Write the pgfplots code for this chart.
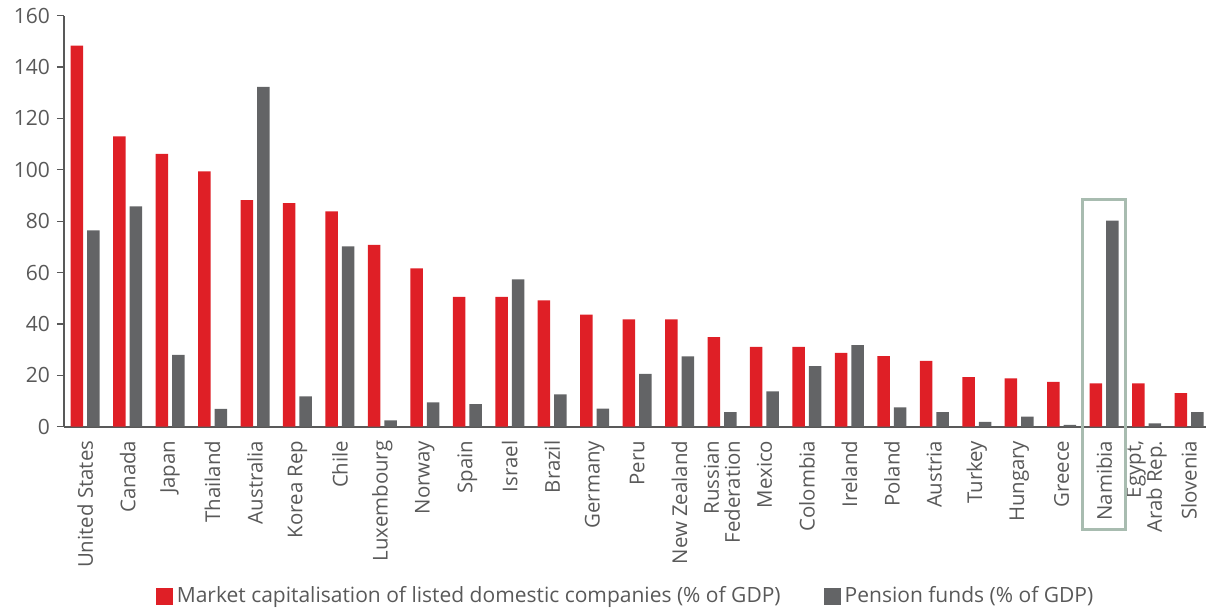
\documentclass[border=0pt]{standalone}
\usepackage{fontspec}
\setmainfont{Open Sans}
\usepackage{pgfplots}
\pgfplotsset{compat=1.18}
\definecolor{cred}{HTML}{DF1F26}
\definecolor{cgrey}{HTML}{636466}
\definecolor{ctext}{HTML}{595959}
\definecolor{cbox}{HTML}{A8BCB0}
\begin{document}
\begin{tikzpicture}
\begin{axis}[
  scale only axis, width=571pt, height=205.5pt,
  xmin=-0.5, xmax=26.4, ymin=0, ymax=160,
  ybar=2pt, bar width=6.25pt,
  axis lines*=left,
  clip=false,
  ytick={0,20,...,160},
  xtick={0,...,26},
  xticklabels={United States,Canada,Japan,Thailand,Australia,Korea Rep,Chile,Luxembourg,Norway,Spain,Israel,Brazil,Germany,Peru,New Zealand,{Russian\\Federation},Mexico,Colombia,Ireland,Poland,Austria,Turkey,Hungary,Greece,Namibia,{Egypt,\\Arab Rep.},Slovenia},
  x tick label style={rotate=90, anchor=east, align=right, font=\fontsize{10.2}{10.5}\selectfont, text=ctext},
  y tick label style={font=\fontsize{10.5}{12}\selectfont, text=ctext},
  /pgf/number format/assume math mode=true,
  major x tick style={draw=none},
  major y tick style={ctext, line width=0.6pt},
  tick align=outside, major tick length=3.5pt,
  y axis line style={ctext, line width=0.6pt},
  x axis line style={ctext, line width=1pt},
  legend columns=2,
  legend style={at={(0.4926,-0.4127)}, anchor=center, draw=none, fill=none,
    font=\fontsize{10.5}{12}\selectfont, text=ctext,
    /tikz/every even column/.append style={column sep=19.5pt}},
  legend image code/.code={\fill[#1] (-1.5pt,-4.25pt) rectangle (7pt,4.25pt);},
]
\addplot[fill=cred, draw=none] coordinates {
(0,148.4) (1,113.0) (2,106.2) (3,99.4) (4,88.2) (5,87.0) (6,83.8) (7,70.8) (8,61.6)
(9,50.5) (10,50.5) (11,49.2) (12,43.6) (13,41.8) (14,41.8) (15,34.9) (16,31.1) (17,31.1)
(18,28.7) (19,27.5) (20,25.6) (21,19.3) (22,18.8) (23,17.5) (24,16.9) (25,16.9) (26,13.1)};
\addlegendentry{Market capitalisation of listed domestic companies (\% of GDP)}
\addplot[fill=cgrey, draw=none] coordinates {
(0,76.4) (1,85.8) (2,28.0) (3,6.9) (4,132.3) (5,11.8) (6,70.2) (7,2.5) (8,9.5)
(9,8.8) (10,57.4) (11,12.6) (12,7.0) (13,20.6) (14,27.4) (15,5.7) (16,13.8) (17,23.6)
(18,31.8) (19,7.5) (20,5.7) (21,1.9) (22,3.9) (23,0.7) (24,80.2) (25,1.3) (26,5.7)};
\addlegendentry{Pension funds (\% of GDP)}
\draw[cbox, line width=1.5pt] (axis cs:23.5,-40.2) rectangle (axis cs:24.5,88.6);
\coordinate (O) at (rel axis cs:0,0);
\end{axis}
\pgfresetboundingbox
\path (O) ++(-32pt,-92.15pt) rectangle ++(604pt,305.5pt);
\end{tikzpicture}
\end{document}
